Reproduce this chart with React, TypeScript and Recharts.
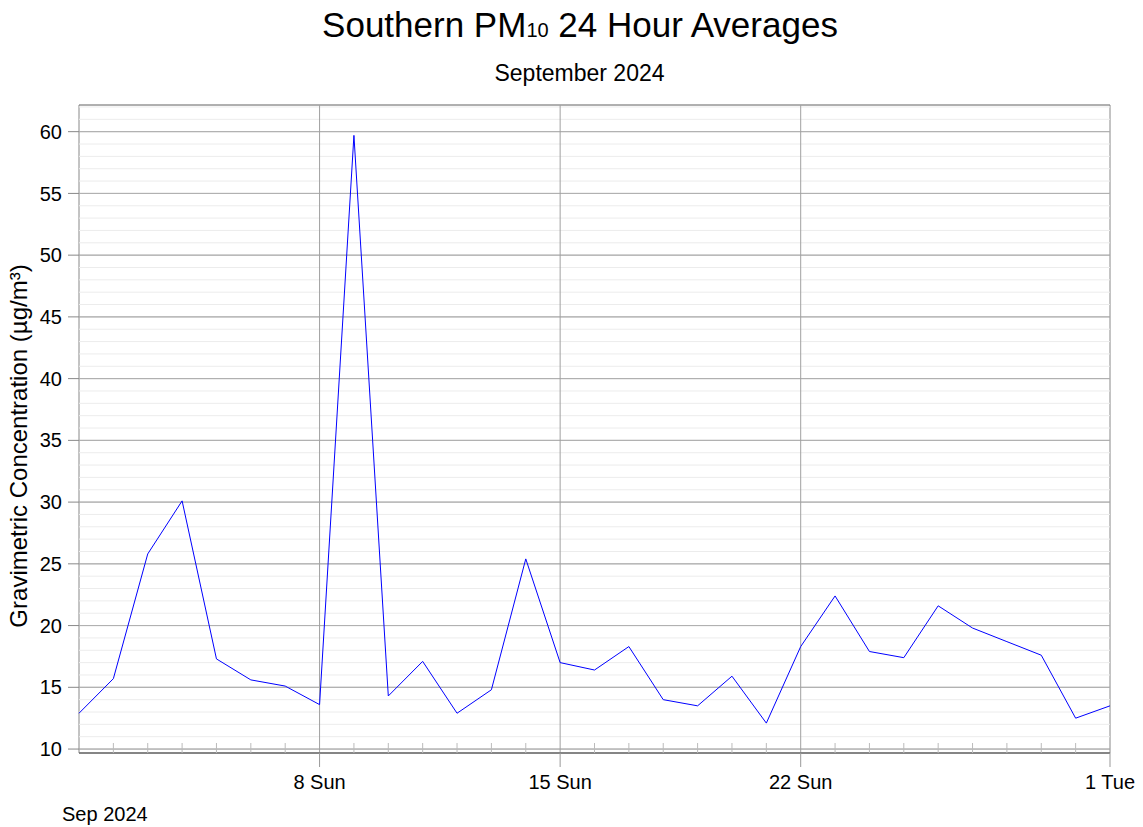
import {
  LineChart,
  Line,
  XAxis,
  YAxis,
  CartesianGrid,
  ReferenceLine,
  ReferenceArea,
} from "recharts";

// day index from 1 Sep 2024 (0) to 1 Oct 2024 (30)
const days = [
  0, 1, 2, 3, 4, 5, 6, 7, 8, 9, 10, 11, 12, 13, 14, 15, 16, 17, 18, 19, 20,
  21, 22, 23, 24, 25, 26, 27, 28, 29, 30,
];
const pm10 = [
  12.9, 15.7, 25.8, 30.1, 17.3, 15.6, 15.1, 13.6, 59.7, 14.3, 17.1, 12.9,
  14.8, 25.4, 17.0, 16.4, 18.3, 14.0, 13.5, 15.9, 12.1, 18.3, 22.4, 17.9,
  17.4, 21.6, 19.8, 18.7, 17.6, 12.5, 13.5,
];
const majorDays = [7, 14, 21, 30];
const majorLabels = ["8 Sun", "15 Sun", "22 Sun", "1 Tue"];
const yTicks = [10, 15, 20, 25, 30, 35, 40, 45, 50, 55, 60];
const minorY = [
  11, 12, 13, 14, 16, 17, 18, 19, 21, 22, 23, 24, 26, 27, 28, 29, 31, 32, 33,
  34, 36, 37, 38, 39, 41, 42, 43, 44, 46, 47, 48, 49, 51, 52, 53, 54, 56, 57,
  58, 59, 61, 62,
];

const data = days.map((d, i) => ({ day: d, value: pm10[i] }));
const Y_MIN = 9.68;
const Y_MAX = 62.16;

const font = '"Liberation Sans", Arial, sans-serif';

function DayTick(props: any) {
  const { x, y, payload } = props;
  const idx = majorDays.indexOf(payload.value);
  if (idx >= 0) {
    return (
      <g>
        <line x1={x} y1={y} x2={x} y2={y + 14} stroke="#999" />
        <text
          x={x}
          y={y + 36}
          textAnchor="middle"
          fontSize={20}
          fontFamily={font}
          fill="#000"
        >
          {majorLabels[idx]}
        </text>
      </g>
    );
  }
  if (payload.value === 0) return <g />;
  return <line x1={x} y1={y} x2={x} y2={y - 10} stroke="#bbb" />;
}

export default function App() {
  return (
    <div
      style={{
        position: "absolute",
        left: 0,
        top: 0,
        width: 1143,
        height: 827,
        background: "#fff",
        fontFamily: font,
      }}
    >
      <div
        style={{
          position: "absolute",
          left: 0,
          top: 5,
          width: 1160,
          textAlign: "center",
          fontSize: 35,
          lineHeight: "40px",
        }}
      >
        Southern PM<span style={{ fontSize: 20 }}>10</span> 24 Hour Averages
      </div>
      <div
        style={{
          position: "absolute",
          left: 0,
          top: 60,
          width: 1159,
          textAlign: "center",
          fontSize: 23,
          lineHeight: "26px",
        }}
      >
        September 2024
      </div>
      <div
        style={{
          position: "absolute",
          left: 19,
          top: 446,
          transform: "translate(-50%, -50%) rotate(-90deg)",
          whiteSpace: "nowrap",
          fontSize: 24,
          lineHeight: "28px",
        }}
      >
        Gravimetric Concentration (µg/m³)
      </div>
      <div
        style={{
          position: "absolute",
          left: 62,
          top: 802,
          fontSize: 20,
          lineHeight: "24px",
        }}
      >
        Sep 2024
      </div>
      <LineChart
        width={1143}
        height={827}
        data={data}
        margin={{ top: 105, right: 33, left: 19, bottom: 24 }}
      >
        <CartesianGrid vertical={false} stroke="#b0b0b0" />
        {minorY.map((v) => (
          <ReferenceLine key={v} y={v} stroke="#ececec" />
        ))}
        {yTicks.map((v) => (
          <ReferenceLine key={"m" + v} y={v} stroke="#b0b0b0" />
        ))}
        {majorDays.slice(0, 3).map((d) => (
          <ReferenceLine key={"v" + d} x={d} stroke="#a0a0a0" />
        ))}
        <ReferenceArea
          x1={0}
          x2={30}
          y1={Y_MIN}
          y2={Y_MAX}
          fill="none"
          stroke="#888"
          ifOverflow="extendDomain"
        />
        <XAxis
          dataKey="day"
          type="number"
          domain={[0, 30]}
          ticks={days}
          interval={0}
          height={50}
          tickSize={0}
          tickMargin={0}
          tickLine={false}
          axisLine={{ stroke: "#777", strokeWidth: 1.5 }}
          tick={<DayTick />}
        />
        <YAxis
          type="number"
          domain={[Y_MIN, Y_MAX]}
          allowDataOverflow
          ticks={yTicks}
          interval={0}
          width={60}
          tickSize={11}
          tickMargin={6}
          axisLine={false}
          tickLine={{ stroke: "#888" }}
          tick={{ fill: "#000", fontSize: 20, fontFamily: font }}
        />
        <Line
          dataKey="value"
          type="linear"
          stroke="#0000ff"
          strokeWidth={1}
          dot={false}
          activeDot={false}
          isAnimationActive={false}
        />
      </LineChart>
    </div>
  );
}
